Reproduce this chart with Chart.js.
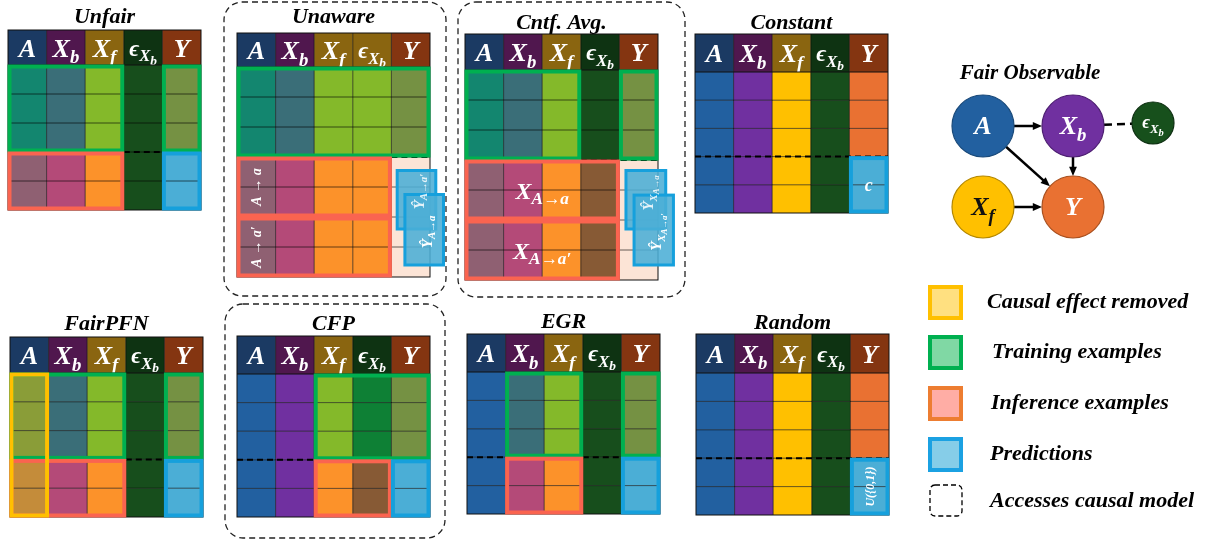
<!DOCTYPE html>
<html>
<head>
<meta charset="utf-8">
<script src="https://cdn.jsdelivr.net/npm/chart.js@4.4.1/dist/chart.umd.min.js"></script>
<style>
    html, body { margin: 0; padding: 0; background: #fff; }
    canvas { display: block; }
</style>
</head>
<body>
<canvas id="chart" width="1206" height="542"></canvas>
<script>
// ---- data ----
const panelTitles = ['Unfair', 'Unaware', 'Cntf. Avg.', 'Constant', 'FairPFN', 'CFP', 'EGR', 'Random']
const columnLabels = ['A', 'X_b', 'X_f', 'ϵ_X_b', 'Y']
const columnKinds = {
    default: ['A', 'Xb', 'Xf', 'eps', 'Y'],
    'Unaware': ['A', 'Xb', 'Xf', 'Xf', 'Y']
}
// b = plain, t = training, i = inference, p = prediction, n = empty, g/h = causal effect removed
const cellStates = {
    'Unfair':     ['tttbt', 'tttbt', 'tttbt', 'iiibp', 'iiibp'],
    'Unaware':    ['ttttt', 'ttttt', 'ttttt', 'iiiin', 'iiiin', 'iiiin', 'iiiin'],
    'Cntf. Avg.': ['tttbt', 'tttbt', 'tttbt', 'iiiin', 'iiiin', 'iiiin', 'iiiin'],
    'Constant':   ['bbbbb', 'bbbbb', 'bbbbb', 'bbbbp', 'bbbbp'],
    'FairPFN':    ['gttbt', 'gttbt', 'gttbt', 'hiibp', 'hiibp'],
    'CFP':        ['bbttt', 'bbttt', 'bbttt', 'bbiip', 'bbiip'],
    'EGR':        ['bttbt', 'bttbt', 'bttbt', 'biibp', 'biibp'],
    'Random':     ['bbbbb', 'bbbbb', 'bbbbb', 'bbbbp', 'bbbbp']
}
// [kind, col0, row0, col1, row1]
const highlightBoxes = {
    'Unfair':     [['train', 0, 0, 3, 3], ['train', 4, 0, 5, 3], ['infer', 0, 3, 3, 5], ['pred', 4, 3, 5, 5]],
    'Unaware':    [['train', 0, 0, 5, 3], ['infer', 0, 3, 4, 5], ['infer', 0, 5, 4, 7]],
    'Cntf. Avg.': [['train', 0, 0, 3, 3], ['train', 4, 0, 5, 3], ['infer', 0, 3, 4, 5], ['infer', 0, 5, 4, 7]],
    'Constant':   [['pred', 4, 3, 5, 5]],
    'FairPFN':    [['train', 0, 0, 3, 3], ['train', 4, 0, 5, 3], ['infer', 0, 3, 3, 5], ['pred', 4, 3, 5, 5], ['removed', 0, 0, 1, 5]],
    'CFP':        [['train', 2, 0, 5, 3], ['infer', 2, 3, 4, 5], ['pred', 4, 3, 5, 5]],
    'EGR':        [['train', 1, 0, 3, 3], ['train', 4, 0, 5, 3], ['infer', 1, 3, 3, 5], ['pred', 4, 3, 5, 5]],
    'Random':     [['pred', 4, 3, 5, 5]]
}
// [col0, col1, row] train / inference split
const splitRules = {
    'Unfair': [[3, 4, 3]], 'Unaware': [[4, 5, 3]], 'Cntf. Avg.': [[3, 5, 3]], 'Constant': [[0, 5, 3]],
    'FairPFN': [[3, 4, 3]], 'CFP': [[0, 2, 3]], 'EGR': [[0, 1, 3], [3, 4, 3]], 'Random': [[0, 5, 3]]
}
// counterfactual predictions [col0, row0, col1, row1, label, label row]
const predictionCards = {
    'Unaware':    [[4.15, 3.45, 5.15, 5.4, 'Ŷ_{A→a′}', 4.15], [4.35, 4.25, 5.35, 6.6, 'Ŷ_{A→a}', 5.5]],
    'Cntf. Avg.': [[4.17, 3.35, 5.2, 5.3, 'Ŷ_{X_{A→a}}', 4.1], [4.38, 4.17, 5.4, 6.5, 'Ŷ_{X_{A→a′}}', 5.4]]
}
// [panel, text, col, row, size, rotated]
const cellNotes = [
    ['Unaware', 'A → a', 0.5, 4, 14, true],
    ['Unaware', 'A → a′', 0.5, 6, 14, true],
    ['Cntf. Avg.', 'X_{A→a}', 2, 4, 24, false],
    ['Cntf. Avg.', 'X_{A→a′}', 2, 6, 24, false],
    ['Constant', 'c', 4.5, 4, 18, false],
    ['Random', 'U({0,1})', 4.5, 4, 12, true]
]
const causalModelPanels = ['Unaware', 'Cntf. Avg.', 'CFP']

const graphTitle = 'Fair Observable'
// [id, label, col, row]
const graphNodes = [['A', 'A', 0, 0], ['Xb', 'X_b', 1, 0], ['eps', 'ϵ_X_b', 2, 0], ['Xf', 'X_f', 0, 1], ['Y', 'Y', 1, 1]]
const graphEdges = [['A', 'Xb'], ['A', 'Y'], ['Xb', 'Y'], ['Xf', 'Y']]
const graphDashedEdges = [['Xb', 'eps']]

const legendLabels = ['Causal effect removed', 'Training examples', 'Inference examples', 'Predictions', 'Accesses causal model']

// ---- layout and styles ----
const colW = 38.6
const panelLayout = {
    'Unfair':     { x: 8,   y: 30,  hh: 35, rh: 29,   ty: 23 },
    'Unaware':    { x: 237, y: 33,  hh: 34, rh: 30,   ty: 23 },
    'Cntf. Avg.': { x: 465, y: 34,  hh: 36, rh: 30,   ty: 29 },
    'Constant':   { x: 695, y: 34,  hh: 38, rh: 28.2, ty: 29 },
    'FairPFN':    { x: 10,  y: 337, hh: 36, rh: 28.8, ty: 330 },
    'CFP':        { x: 237, y: 336, hh: 38, rh: 28.6, ty: 330 },
    'EGR':        { x: 467, y: 334, hh: 38, rh: 28.4, ty: 328 },
    'Random':     { x: 696, y: 334, hh: 39, rh: 28.4, ty: 329 }
}
const causalBoxLayout = { 'Unaware': [224, 2, 446, 296], 'Cntf. Avg.': [458, 2, 685, 297], 'CFP': [225, 304, 445, 538] }
const graphLayout = { cols: [983, 1073, 1153], rows: [126, 207], radius: { A: 31, Xb: 31, eps: 21, Xf: 31, Y: 31 }, titleX: 1030, titleY: 79 }
const legendLayout = { x: 928, size: 35, tops: [285, 335, 386, 437, 485], textX: [987, 992, 991, 990, 990] }

const palette = {
    header: { A: '#1B3A63', Xb: '#50174E', Xf: '#8A6510', eps: '#0E3312', Y: '#843511' },
    b: { A: '#2260A0', Xb: '#7030A0', Xf: '#FFC000', eps: '#174E1C', Y: '#E97132' },
    t: { A: '#13866F', Xb: '#3A6E78', Xf: '#84B92A', eps: '#0E8035', Y: '#759143' },
    i: { A: '#8F6072', Xb: '#B44A78', Xf: '#FC922A', eps: '#875A35', Y: '#4BAED6' },
    p: '#4BAED6', n: '#FCE4D6', g: '#8A9D38', h: '#C48C3A'
}
const boxColors = { train: '#00B050', infer: '#FA6450', pred: '#16A0DC', removed: '#FFC000' }
const nodeStyle = {
    A: ['#2260A0', '#1A4A7A', '#fff'], Xb: ['#7030A0', '#4E1F72', '#fff'], eps: ['#17501C', '#0C2E10', '#fff'],
    Xf: ['#FFC000', '#B38700', '#111'], Y: ['#E97132', '#A9501F', '#fff']
}
const legendStyle = [['#FFE080', '#FFC000'], ['#80D8A4', '#00B050'], ['#FFADA5', '#ED7D31'], ['#86CDE8', '#1BA1E2']]

const font = size => `italic bold ${size}px "Liberation Serif", "DejaVu Serif", serif`

// tiny subscript parser: "X_{A→a}" -> [[char, level], ...]
function parseMath(s, level = 0) {
    const out = []
    let i = 0
    while (i < s.length) {
        if (s[i] === '_') {
            i++
            let grp
            if (s[i] === '{') {
                let depth = 1, j = i + 1
                while (depth) { if (s[j] === '{') depth++; else if (s[j] === '}') depth--; j++ }
                grp = s.slice(i + 1, j - 1)
                i = j
            } else {
                grp = s.slice(i)
                i = s.length
            }
            out.push(...parseMath(grp, level + 1))
        } else {
            out.push([s[i], level])
            i++
        }
    }
    return out
}

const mathScale = [1, 0.72, 0.58]
const mathDrop = [0, 0.24, 0.4]
function drawMath(ctx, str, x, y, size, color, rotated) {
    const runs = []
    for (const [ch, lv] of parseMath(str)) {
        const last = runs[runs.length - 1]
        if (last && last.lv === lv) last.t += ch
        else runs.push({ t: ch, lv })
    }
    ctx.save()
    ctx.translate(x, y)
    if (rotated) ctx.rotate(-Math.PI / 2)
    let w = 0
    runs.forEach(r => { ctx.font = font(size * mathScale[r.lv]); r.w = ctx.measureText(r.t).width; w += r.w })
    let px = -w / 2
    ctx.fillStyle = color
    ctx.textAlign = 'left'
    ctx.textBaseline = 'alphabetic'
    const base = size * 0.36
    runs.forEach(r => {
        ctx.font = font(size * mathScale[r.lv])
        ctx.fillText(r.t, px, base + size * mathDrop[r.lv])
        px += r.w
    })
    ctx.restore()
}

function roundRect(ctx, x0, y0, x1, y1, rad) {
    ctx.beginPath()
    ctx.moveTo(x0 + rad, y0)
    ctx.arcTo(x1, y0, x1, y1, rad)
    ctx.arcTo(x1, y1, x0, y1, rad)
    ctx.arcTo(x0, y1, x0, y0, rad)
    ctx.arcTo(x0, y0, x1, y0, rad)
    ctx.closePath()
}

function drawPanel(ctx, name, X, Y) {
    const L = panelLayout[name]
    const kinds = columnKinds[name] || columnKinds.default
    const states = cellStates[name]
    const nRows = states.length
    const cx = c => X(L.x + c * colW)
    const ry = r => Y(L.y + L.hh + r * L.rh)
    const top = Y(L.y)

    // title
    ctx.fillStyle = '#000'
    ctx.font = font(22)
    ctx.textAlign = 'center'
    ctx.textBaseline = 'alphabetic'
    ctx.fillText(name, cx(2.5), Y(L.ty))

    // header
    kinds.forEach((k, c) => {
        ctx.fillStyle = palette.header[k]
        ctx.fillRect(cx(c), top, cx(c + 1) - cx(c), ry(0) - top)
        const isEps = columnLabels[c].startsWith('ϵ')
        drawMath(ctx, columnLabels[c], (cx(c) + cx(c + 1)) / 2, (top + ry(0)) / 2, isEps ? 23 : 26, '#fff', false)
    })

    // body cells
    states.forEach((row, r) => {
        for (let c = 0; c < 5; c++) {
            const st = row[c]
            ctx.fillStyle = typeof palette[st] === 'string' ? palette[st] : palette[st][kinds[c]]
            ctx.fillRect(cx(c), ry(r), cx(c + 1) - cx(c), ry(r + 1) - ry(r))
        }
    })

    // grid lines
    ctx.lineWidth = 1
    ctx.strokeStyle = 'rgba(0,0,0,0.6)'
    ctx.beginPath()
    for (let r = 1; r < nRows; r++) { ctx.moveTo(cx(0), ry(r)); ctx.lineTo(cx(5), ry(r)) }
    for (let c = 1; c < 5; c++) { ctx.moveTo(cx(c), top); ctx.lineTo(cx(c), ry(nRows)) }
    ctx.stroke()
    ctx.strokeStyle = '#111'
    ctx.beginPath()
    ctx.moveTo(cx(0), ry(0)); ctx.lineTo(cx(5), ry(0))
    ctx.stroke()
    ctx.strokeRect(cx(0), top, cx(5) - cx(0), ry(nRows) - top)

    // dashed split between training and inference rows
    ctx.save()
    ctx.setLineDash([6, 4])
    ctx.lineWidth = 2
    ctx.strokeStyle = '#000'
    ;(splitRules[name] || []).forEach(([c0, c1, r]) => {
        ctx.beginPath(); ctx.moveTo(cx(c0), ry(r)); ctx.lineTo(cx(c1), ry(r)); ctx.stroke()
    })
    ctx.restore()

    // highlight boxes
    ctx.lineWidth = 4
    ;(highlightBoxes[name] || []).forEach(([kind, c0, r0, c1, r1]) => {
        const ins = 1.5
        ctx.strokeStyle = boxColors[kind]
        ctx.strokeRect(cx(c0) + ins, ry(r0) + ins, cx(c1) - cx(c0) - 2 * ins, ry(r1) - ry(r0) - 2 * ins)
    })

    // counterfactual prediction cards (boxes first, then labels so both stay readable)
    const cards = predictionCards[name] || []
    cards.forEach(([c0, r0, c1, r1]) => {
        ctx.fillStyle = 'rgba(75,174,214,0.88)'
        ctx.fillRect(cx(c0), ry(r0), cx(c1) - cx(c0), ry(r1) - ry(r0))
        ctx.lineWidth = 3
        ctx.strokeStyle = boxColors.pred
        ctx.strokeRect(cx(c0), ry(r0), cx(c1) - cx(c0), ry(r1) - ry(r0))
    })
    cards.forEach(([c0, , c1, , label, lr], k) => {
        drawMath(ctx, label, (cx(c0) + cx(c1)) / 2 + 2, ry(lr), 15, k === 0 ? 'rgba(255,255,255,0.85)' : '#fff', true)
    })

    // notes written inside cells
    cellNotes.filter(n => n[0] === name).forEach(([, text, c, r, size, rotated]) => {
        drawMath(ctx, text, cx(c), ry(r), size, '#fff', rotated)
    })
}

function drawArrow(ctx, x0, y0, x1, y1) {
    const a = Math.atan2(y1 - y0, x1 - x0)
    const head = 10
    ctx.beginPath()
    ctx.moveTo(x0, y0)
    ctx.lineTo(x1 - Math.cos(a) * head * 0.8, y1 - Math.sin(a) * head * 0.8)
    ctx.stroke()
    ctx.beginPath()
    ctx.moveTo(x1, y1)
    ctx.lineTo(x1 - head * Math.cos(a - 0.4), y1 - head * Math.sin(a - 0.4))
    ctx.lineTo(x1 - head * Math.cos(a + 0.4), y1 - head * Math.sin(a + 0.4))
    ctx.closePath()
    ctx.fill()
}

function drawGraph(ctx, X, Y) {
    const G = graphLayout
    ctx.fillStyle = '#000'
    ctx.font = font(21)
    ctx.textAlign = 'center'
    ctx.textBaseline = 'alphabetic'
    ctx.fillText(graphTitle, X(G.titleX), Y(G.titleY))

    const pos = {}
    graphNodes.forEach(([id, , c, r]) => {
        pos[id] = { x: X(G.cols[c]), y: Y(G.rows[r] - (id === 'eps' ? 3 : 0)), r: G.radius[id] }
    })
    const ends = (a, b) => {
        const p = pos[a], q = pos[b]
        const d = Math.hypot(q.x - p.x, q.y - p.y)
        const ux = (q.x - p.x) / d, uy = (q.y - p.y) / d
        return [p.x + ux * p.r, p.y + uy * p.r, q.x - ux * q.r, q.y - uy * q.r]
    }
    ctx.strokeStyle = '#000'
    ctx.fillStyle = '#000'
    ctx.lineWidth = 2.5
    graphEdges.forEach(([a, b]) => drawArrow(ctx, ...ends(a, b)))
    ctx.save()
    ctx.setLineDash([8, 5])
    graphDashedEdges.forEach(([a, b]) => {
        const [x0, y0, x1, y1] = ends(a, b)
        ctx.beginPath(); ctx.moveTo(x0, y0); ctx.lineTo(x1, y1); ctx.stroke()
    })
    ctx.restore()

    graphNodes.forEach(([id, label]) => {
        const p = pos[id]
        const [fill, stroke, text] = nodeStyle[id]
        ctx.beginPath()
        ctx.arc(p.x, p.y, p.r, 0, Math.PI * 2)
        ctx.fillStyle = fill
        ctx.fill()
        ctx.lineWidth = 1.2
        ctx.strokeStyle = stroke
        ctx.stroke()
        drawMath(ctx, label, p.x, p.y - 1, id === 'eps' ? 18 : 26, text, false)
    })
}

function drawLegend(ctx, X, Y) {
    const L = legendLayout
    legendLabels.forEach((label, i) => {
        const x0 = X(L.x), y0 = Y(L.tops[i])
        const s = L.size
        if (i < legendStyle.length) {
            ctx.fillStyle = legendStyle[i][0]
            ctx.fillRect(x0, y0, s, s)
            ctx.lineWidth = 4
            ctx.strokeStyle = legendStyle[i][1]
            ctx.strokeRect(x0 + 2, y0 + 2, s - 4, s - 4)
        } else {
            ctx.save()
            ctx.setLineDash([5, 3])
            ctx.lineWidth = 1.3
            ctx.strokeStyle = '#000'
            roundRect(ctx, x0 + 2, y0, x0 + s - 1, y0 + s - 4, 5)
            ctx.stroke()
            ctx.restore()
        }
        ctx.fillStyle = '#000'
        ctx.font = font(22)
        ctx.textAlign = 'left'
        ctx.textBaseline = 'middle'
        ctx.fillText(label, X(L.textX[i]), y0 + s / 2 + (i === 4 ? -1 : 0))
    })
}

const diagramPlugin = {
    id: 'diagram',
    beforeDraw(chart) {
        const ctx = chart.ctx
        ctx.save()
        ctx.fillStyle = '#fff'
        ctx.fillRect(0, 0, chart.width, chart.height)
        ctx.restore()
    },
    afterDraw(chart) {
        const ctx = chart.ctx
        const X = v => chart.scales.x.getPixelForValue(v)
        const Y = v => chart.scales.y.getPixelForValue(v)
        ctx.save()
        // dashed frames for methods that access the causal model
        causalModelPanels.forEach(name => {
            const [x0, y0, x1, y1] = causalBoxLayout[name]
            ctx.save()
            ctx.setLineDash([6, 4])
            ctx.lineWidth = 1.3
            ctx.strokeStyle = '#222'
            roundRect(ctx, X(x0), Y(y0), X(x1), Y(y1), 18)
            ctx.stroke()
            ctx.restore()
        })
        panelTitles.forEach(name => drawPanel(ctx, name, X, Y))
        drawGraph(ctx, X, Y)
        drawLegend(ctx, X, Y)
        ctx.restore()
    }
}

new Chart(document.getElementById('chart'), {
    type: 'scatter',
    data: { datasets: [] },
    options: {
        responsive: false,
        animation: false,
        events: [],
        layout: { padding: 0 },
        plugins: { legend: { display: false }, tooltip: { enabled: false } },
        scales: {
            x: { type: 'linear', min: 0, max: 1206, display: false },
            y: { type: 'linear', min: 0, max: 542, reverse: true, display: false }
        }
    },
    plugins: [diagramPlugin]
})
</script>
</body>
</html>
